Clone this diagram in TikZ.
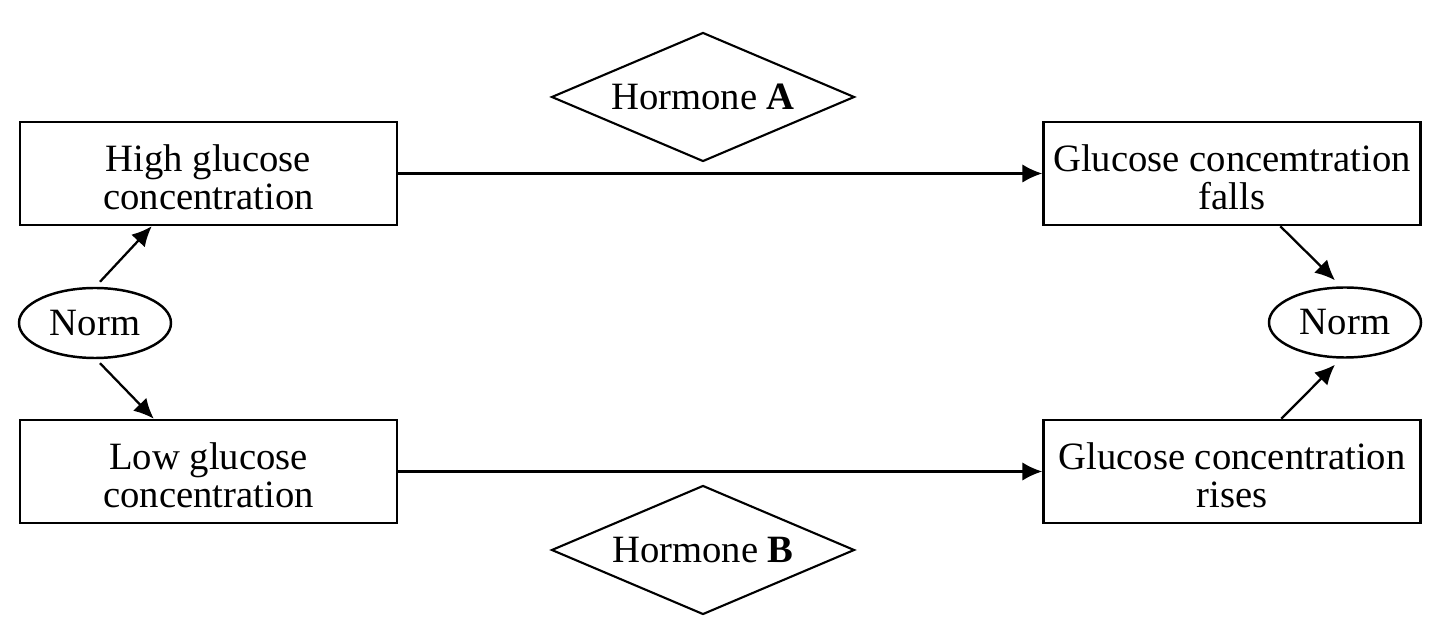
\documentclass[tikz,border=0pt]{standalone}
\usepackage{fontspec}
\setmainfont{Liberation Serif}
\usetikzlibrary{shapes.geometric,arrows.meta}

\begin{document}
\begin{tikzpicture}

      \useasboundingbox (0,0) rectangle (28.8,-12.54);

      \begin{scope}[every node/.style={draw,line width=1.4pt,align=center,inner sep=0,font=\fontsize{22}{21.5}\selectfont}]

        \begin{scope}[every node/.append style={rectangle,minimum width=7.54cm,minimum height=2.06cm}]
          \node (high)  at (4.17,-3.47)  {\rule{0pt}{20pt}High glucose\\concentration};
          \node (low)   at (4.17,-9.43)  {\rule{0pt}{20pt}Low glucose\\concentration};
          \node (falls) at (24.64,-3.47) {\rule{0pt}{20pt}Glucose concemtration\\falls};
          \node (rises) at (24.64,-9.43) {\rule{0pt}{20pt}Glucose concentration\\rises};
        \end{scope}

        \begin{scope}[every node/.append style={ellipse,minimum width=3.04cm,minimum height=1.4cm}]
          \node (normL) at (1.9,-6.46)  {Norm};
          \node (normR) at (26.9,-6.45) {Norm};
        \end{scope}

        \begin{scope}[every node/.append style={diamond,aspect=2.35,line width=1.2pt,minimum width=6.06cm,minimum height=2.58cm}]
          \node (hormA) at (14.06,-1.94) {Hormone \textbf{A}};
          \node (hormB) at (14.06,-11.0) {Hormone \textbf{B}};
        \end{scope}
      \end{scope}

      \begin{scope}[every edge/.style={draw,line width=1.3pt,-{Latex[length=0.4cm,width=0.37cm]}}]
        \path (high)  edge (falls);
        \path (low)   edge (rises);
        \path ([shift={(0.1,0.1)}]normL.north)  edge ([xshift=2.66cm]high.south west);
        \path ([shift={(0.1,-0.08)}]normL.south) edge ([xshift=2.7cm]low.north west);
        \path ([xshift=4.76cm]falls.south west)  edge ([shift={(-0.2,0.12)}]normR.north);
        \path ([xshift=4.78cm]rises.north west)  edge ([shift={(-0.2,-0.12)}]normR.south);
      \end{scope}

    \end{tikzpicture}
\end{document}
